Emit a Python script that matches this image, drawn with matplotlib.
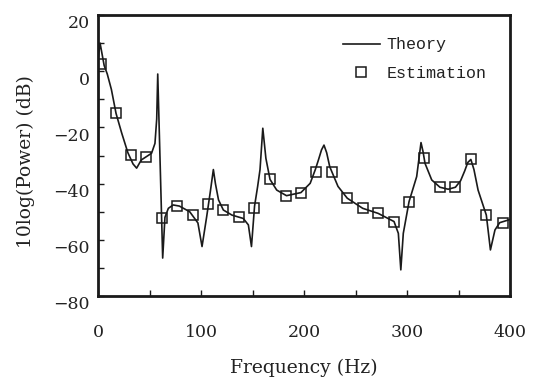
import numpy as np
import matplotlib
matplotlib.use('Agg')
import matplotlib.pyplot as plt
from matplotlib.transforms import ScaledTranslation

# courbe theorique
f_theo = [0, 2, 4, 6, 9, 13, 17.5, 23, 29, 34, 37.5, 42, 47, 52, 55.3, 57, 58,
          62.8, 65, 68.3, 73, 79, 89, 97, 101, 105.5, 109, 112, 114, 117, 121.7,
          130, 141, 146, 149, 152, 155, 157.3, 160, 163, 167, 173.5, 183, 197,
          206, 211, 214, 217, 219.4, 222, 225, 233, 242, 257, 272, 287.4, 291.6,
          294, 296.4, 302, 309.4, 312, 313.6, 315.5, 317.5, 324, 332, 340, 347,
          352, 356, 359, 362, 365, 369, 377, 381, 385.4, 390, 398, 400]
p_theo = [4, 10, 6, 2, -1, -6.5, -15, -22, -29, -33, -34.5, -31.6, -30.4, -29.2,
          -25.7, -17, -1,
          -66.5, -52, -48.8, -47.6, -48, -50, -54, -62.4, -51.8, -43, -35, -40,
          -45.8, -49.4,
          -51.2, -52.4, -54.7, -62.4, -48, -41, -35, -20.3, -31, -38.5, -42.3,
          -44.3, -43.2,
          -39.9, -35, -31.6, -28, -26.3, -29, -34, -41, -45.2, -48.8, -50.6,
          -53.5, -57.7,
          -70.7, -57.7, -46.4, -37.5, -30, -25.4, -28.5, -32.8, -38.7, -41.3,
          -42, -41.3,
          -39, -35.5, -32.5, -31.4, -35, -42.3, -51.2, -63.6, -56.5, -53.9, -53,
          -52.8]

# points estimes
f_est = [3, 17.5, 32, 46.6, 61.8, 77, 92.5, 107, 121.7, 137, 151.8, 167, 182.5,
         197, 212, 227, 242, 257, 272, 287.4, 302, 316.5, 332, 347, 362, 377, 393]
p_est = [2.6, -15, -29.8, -30.5, -52.1, -48, -51.2, -47.3, -49.4, -51.8, -48.8,
         -38.5, -44.3, -43.2, -36, -36, -45.2, -48.8, -50.6, -53.5, -46.4, -31,
         -41.3, -41.3, -31.4, -51.2, -53.9]

xticks = [0, 100, 200, 300, 400]
yticks = [20, 0, -20, -40, -60, -80]

fig = plt.figure(figsize=(5.37, 3.8), dpi=100)
ax = fig.add_axes([98/537, 1 - 296/380, 412/537, 281/380])

col = '#1a1a1a'
ax.plot(f_theo, p_theo, color=col, lw=1.2, label='Theory')
ax.plot(f_est, p_est, ls='none', marker='s', ms=7, mfc='none', mec=col,
        mew=1.1, label='Estimation')

ax.set_xlim(0, 400)
ax.set_ylim(-80, 20)
ax.set_xticks(xticks)
ax.set_xticks(np.arange(50, 400, 100), minor=True)
ax.set_yticks(yticks)
ax.set_yticks(np.arange(-70, 20, 20), minor=True)
ax.set_yticklabels([('%d' % v).replace('-', '\u2212') for v in yticks])
for sp in ax.spines.values():
    sp.set_linewidth(2)
    sp.set_color(col)
ax.tick_params(which='both', direction='in', length=4, width=1, color=col)
ax.tick_params(axis='x', pad=20)
ax.tick_params(axis='y', pad=6)
for lbl in ax.get_xticklabels() + ax.get_yticklabels():
    lbl.set_fontfamily('DejaVu Serif')
    lbl.set_fontsize(12.5)
    lbl.set_color('#222222')
off = ScaledTranslation(0, -5/72, fig.dpi_scale_trans)
for lbl in ax.get_yticklabels():
    lbl.set_transform(lbl.get_transform() + off)

ax.set_xlabel('Frequency (Hz)', family='DejaVu Serif', fontsize=13.5,
              color='#222222', labelpad=13)
ax.set_ylabel('10log(Power) (dB)', family='DejaVu Serif', fontsize=13.5,
              color='#222222')
ax.yaxis.set_label_coords(-0.152, 0.477)

leg = ax.legend(loc='upper left', bbox_to_anchor=(0.595, 0.92), frameon=False,
                prop={'family': 'Liberation Mono', 'size': 12},
                handlelength=2.2, handletextpad=0.4, labelspacing=0.8,
                borderpad=0, borderaxespad=0)
for t in leg.get_texts():
    t.set_color('#222222')

fig.savefig('out.png', dpi=100)
